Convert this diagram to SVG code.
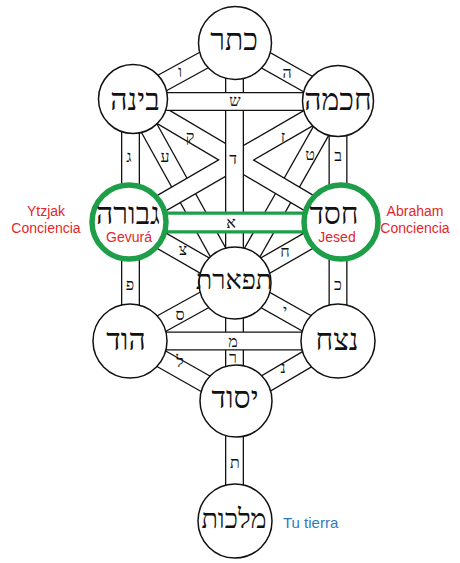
<svg xmlns="http://www.w3.org/2000/svg" xmlns:xlink="http://www.w3.org/1999/xlink" width="460" height="563" viewBox="0 0 460 563">
<style>
.bk{stroke:#111;stroke-width:19;fill:none}
.wh{stroke:#fff;stroke-width:16.4;fill:none}
.gr{stroke:#1e9e48;stroke-width:22;fill:none}
.whg{stroke:#fff;stroke-width:15.6;fill:none}
.node{fill:#fff;stroke:#111;stroke-width:1.5}
.gnode{fill:#fff;stroke:#1e9e48;stroke-width:5.5}
.heb{font-family:"Liberation Serif","DejaVu Serif","DejaVu Sans",serif;font-size:30px;fill:#111;text-anchor:middle}
.sm{font-size:27px}
.let{font-family:"Liberation Serif","DejaVu Serif","DejaVu Sans",serif;font-size:16px;fill:#111;text-anchor:middle}
.red{font-family:"Liberation Sans",Arial,sans-serif;font-size:14px;fill:#e4262b;text-anchor:middle}
.blue{font-family:"Liberation Sans",Arial,sans-serif;font-size:15px;fill:#2a7bc0}
</style>
<defs>
<path id="p_ayin" d="M133 99 L235 283"/>
<path id="p_tet" d="M338 101 L235 283"/>
<path id="p_qof" d="M133 99 L341 222"/>
<path id="p_zayin" d="M338 101 L129 222"/>
<path id="p_dalet" d="M234.5 43 L234.5 283"/>
<path id="p_shin" d="M133 101.5 L338 101.5"/>
<path id="p_alef" d="M129 222.5 L341 222.5"/>
<path id="p_vav" d="M235 43 L133 99"/>
<path id="p_he" d="M235 43 L338 101"/>
<path id="p_gimel" d="M130.5 99 L130.5 222"/>
<path id="p_bet" d="M338 101 L338 222"/>
<path id="p_tsadi" d="M129 222 L235 283"/>
<path id="p_chet" d="M341 222 L235 283"/>
<path id="p_pe" d="M130.5 222 L130.5 341"/>
<path id="p_kaf" d="M338 222 L338 341"/>
<path id="p_samekh" d="M235 283 L130 341"/>
<path id="p_yod" d="M235 283 L338 341"/>
<path id="p_lamed" d="M130 341 L236 401"/>
<path id="p_nun" d="M338 341 L236 401"/>
<path id="p_resh" d="M234.5 283 L234.5 401"/>
<path id="p_tav" d="M234.5 401 L234.5 521"/>
<path id="p_mem" d="M130 341 L338 341"/>
</defs>
<rect width="460" height="563" fill="#fff"/>
<g id="connectors">
<g id="layer1">
<use xlink:href="#p_ayin" class="bk"/><use xlink:href="#p_tet" class="bk"/>
<use xlink:href="#p_ayin" class="wh"/><use xlink:href="#p_tet" class="wh"/>
</g>
<g id="layer2">
<use xlink:href="#p_qof" class="bk"/><use xlink:href="#p_zayin" class="bk"/>
<use xlink:href="#p_qof" class="wh"/><use xlink:href="#p_zayin" class="wh"/>
</g>
<g id="layer3">
<use xlink:href="#p_dalet" class="bk"/><use xlink:href="#p_dalet" class="wh"/>
</g>
<g id="layer4">
<use xlink:href="#p_shin" class="bk"/><use xlink:href="#p_shin" class="wh"/>
</g>
<g id="layer5">
<use xlink:href="#p_alef" class="gr"/><use xlink:href="#p_alef" class="whg"/>
</g>
<g id="layer6">
<use xlink:href="#p_vav" class="bk"/><use xlink:href="#p_he" class="bk"/>
<use xlink:href="#p_gimel" class="bk"/><use xlink:href="#p_bet" class="bk"/>
<use xlink:href="#p_tsadi" class="bk"/><use xlink:href="#p_chet" class="bk"/>
<use xlink:href="#p_pe" class="bk"/><use xlink:href="#p_kaf" class="bk"/>
<use xlink:href="#p_samekh" class="bk"/><use xlink:href="#p_yod" class="bk"/>
<use xlink:href="#p_lamed" class="bk"/><use xlink:href="#p_nun" class="bk"/>
<use xlink:href="#p_resh" class="bk"/><use xlink:href="#p_tav" class="bk"/>
<use xlink:href="#p_vav" class="wh"/><use xlink:href="#p_he" class="wh"/>
<use xlink:href="#p_gimel" class="wh"/><use xlink:href="#p_bet" class="wh"/>
<use xlink:href="#p_tsadi" class="wh"/><use xlink:href="#p_chet" class="wh"/>
<use xlink:href="#p_pe" class="wh"/><use xlink:href="#p_kaf" class="wh"/>
<use xlink:href="#p_samekh" class="wh"/><use xlink:href="#p_yod" class="wh"/>
<use xlink:href="#p_lamed" class="wh"/><use xlink:href="#p_nun" class="wh"/>
<use xlink:href="#p_resh" class="wh"/><use xlink:href="#p_tav" class="wh"/>
</g>
<g id="layer7">
<use xlink:href="#p_mem" class="bk"/><use xlink:href="#p_mem" class="wh"/>
</g>
<g id="path-letters">
<text class="let" x="287" y="78">ה</text>
<text class="let" x="180" y="77">ו</text>
<text class="let" x="235" y="106">ש</text>
<text class="let" x="190" y="142">ק</text>
<text class="let" x="283" y="142">ז</text>
<text class="let" x="165" y="162">ע</text>
<text class="let" x="310" y="160">ט</text>
<text class="let" x="129" y="162">ג</text>
<text class="let" x="338" y="161">ב</text>
<text class="let" x="233" y="164">ד</text>
<text class="let" x="231" y="228">א</text>
<text class="let" x="183" y="255">צ</text>
<text class="let" x="285" y="257">ח</text>
<text class="let" x="130" y="290">פ</text>
<text class="let" x="338" y="290">כ</text>
<text class="let" x="180" y="320">ס</text>
<text class="let" x="285" y="316">י</text>
<text class="let" x="233" y="347">מ</text>
<text class="let" x="233" y="363">ר</text>
<text class="let" x="180" y="367">ל</text>
<text class="let" x="283" y="373">נ</text>
<text class="let" x="235" y="468">ת</text>
</g>
</g>
<g id="keter"><circle class="node" cx="235" cy="43" r="36.5"/><text class="heb" x="234" y="50">כתר</text></g>
<g id="binah"><circle class="node" cx="133" cy="99" r="34.5"/><text class="heb" x="135" y="110">בינה</text></g>
<g id="chokmah"><circle class="node" cx="338" cy="101" r="35.5"/><text class="heb" x="338" y="110">חכמה</text></g>
<g id="gevurah"><circle class="gnode" cx="129" cy="222" r="37"/><text class="heb" x="128" y="224" font-size="29">גבורה</text><text class="red" x="129" y="242">Gevurá</text></g>
<g id="chesed"><circle class="gnode" cx="341" cy="222" r="37"/><text class="heb" x="334" y="224" font-size="29">חסד</text><text class="red" x="337" y="242">Jesed</text></g>
<g id="tiferet"><circle class="node" cx="235" cy="283" r="36"/><text class="heb sm" x="234" y="289">תפארת</text></g>
<g id="hod"><circle class="node" cx="130" cy="341" r="37"/><text class="heb" x="126" y="350">הוד</text></g>
<g id="netzach"><circle class="node" cx="338" cy="341" r="37"/><text class="heb" x="337" y="350">נצח</text></g>
<g id="yesod"><circle class="node" cx="236" cy="401" r="36"/><text class="heb" x="235" y="408">יסוד</text></g>
<g id="malkut"><circle class="node" cx="235" cy="521" r="37"/><text class="heb sm" x="234" y="528">מלכות</text></g>
<g id="annotations">
<text class="red" x="46" y="216">Ytzjak</text>
<text class="red" x="46" y="233">Conciencia</text>
<text class="red" x="415" y="216">Abraham</text>
<text class="red" x="415" y="233">Conciencia</text>
<text class="blue" x="283" y="528">Tu tierra</text>
</g>
</svg>
